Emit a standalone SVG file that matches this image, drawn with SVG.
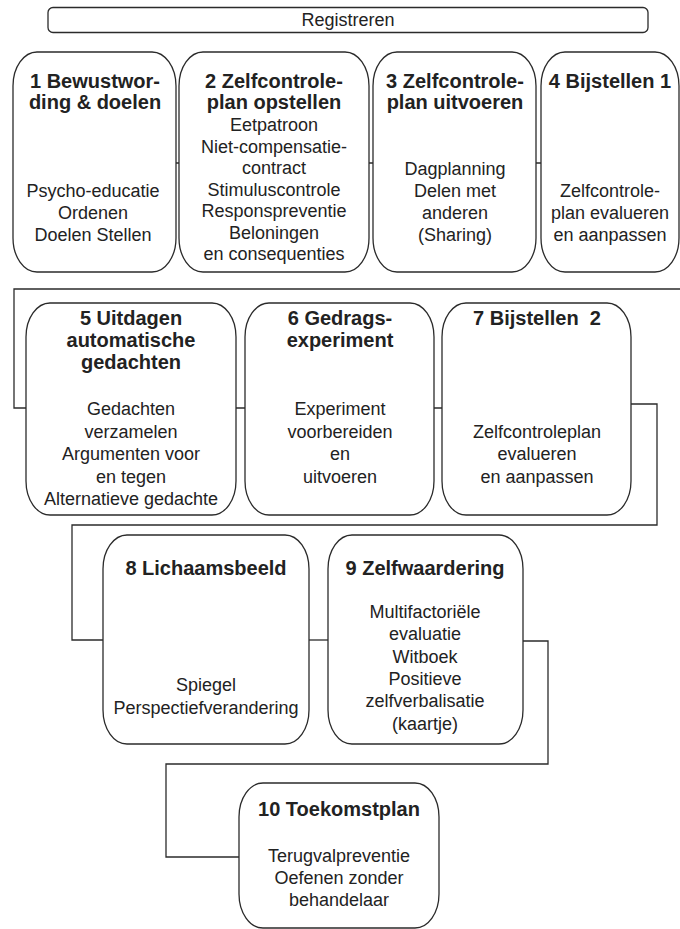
<svg xmlns="http://www.w3.org/2000/svg" width="680" height="929" viewBox="0 0 680 929">
<style>
.n{fill:#fff;stroke:#2b2b2b;stroke-width:1.3}
.c{fill:none;stroke:#2b2b2b;stroke-width:1.3}
.t{font-family:"Liberation Sans",Arial,sans-serif;font-size:20px;font-weight:bold;fill:#222;text-anchor:middle}
.b{font-family:"Liberation Sans",Arial,sans-serif;font-size:18px;fill:#222;text-anchor:middle}
</style>
<rect width="680" height="929" fill="#fff"/>
<g id="connectors">
<path class="c" d="M176 163H179M369 163H373M536 163H541"/>
<path class="c" d="M680 289H14V408H26"/>
<path class="c" d="M236 408H245M434 408H442"/>
<path class="c" d="M631 404H657V525H72V640H103"/>
<path class="c" d="M309 640H328"/>
<path class="c" d="M523 641H548V764H166V857H239"/>
</g>
<g id="registreren">
<rect class="n" x="48" y="7.5" width="600" height="25" rx="5"/>
<text class="b" x="348" y="26">Registreren</text>
</g>
<g id="node1">
<rect class="n" x="13" y="52" width="163" height="220" rx="24" ry="34"/>
<text class="t" x="95" y="88">1 Bewustwor-<tspan x="95" dy="21">ding &amp; doelen</tspan></text>
<text class="b" x="93" y="197">Psycho-educatie<tspan x="93" dy="22">Ordenen</tspan><tspan x="93" dy="22">Doelen Stellen</tspan></text>
</g>
<g id="node2">
<rect class="n" x="179" y="52" width="190" height="220" rx="24" ry="34"/>
<text class="t" x="274" y="88">2 Zelfcontrole-<tspan x="274" dy="21">plan opstellen</tspan></text>
<text class="b" x="274" y="131">Eetpatroon<tspan x="274" dy="21.5">Niet-compensatie-</tspan><tspan x="274" dy="21.5">contract</tspan><tspan x="274" dy="21.5">Stimuluscontrole</tspan><tspan x="274" dy="21.5">Responspreventie</tspan><tspan x="274" dy="21.5">Beloningen</tspan><tspan x="274" dy="21.5">en consequenties</tspan></text>
</g>
<g id="node3">
<rect class="n" x="373" y="52" width="163" height="220" rx="24" ry="34"/>
<text class="t" x="455" y="88">3 Zelfcontrole-<tspan x="455" dy="21">plan uitvoeren</tspan></text>
<text class="b" x="455" y="175">Dagplanning<tspan x="455" dy="22">Delen met</tspan><tspan x="455" dy="22">anderen</tspan><tspan x="455" dy="22">(Sharing)</tspan></text>
</g>
<g id="node4">
<rect class="n" x="541" y="52" width="138" height="220" rx="24" ry="34"/>
<text class="t" x="610" y="88">4 Bijstellen 1</text>
<text class="b" x="610" y="197">Zelfcontrole-<tspan x="610" dy="22">plan evalueren</tspan><tspan x="610" dy="22">en aanpassen</tspan></text>
</g>
<g id="node5">
<rect class="n" x="26" y="303" width="210" height="212" rx="24" ry="34"/>
<text class="t" x="131" y="325">5 Uitdagen<tspan x="131" dy="22">automatische</tspan><tspan x="131" dy="22">gedachten</tspan></text>
<text class="b" x="131" y="415">Gedachten<tspan x="131" dy="22.5">verzamelen</tspan><tspan x="131" dy="22.5">Argumenten voor</tspan><tspan x="131" dy="22.5">en tegen</tspan><tspan x="131" dy="22.5">Alternatieve gedachte</tspan></text>
</g>
<g id="node6">
<rect class="n" x="245" y="303" width="189" height="212" rx="24" ry="34"/>
<text class="t" x="340" y="325">6 Gedrags-<tspan x="340" dy="22">experiment</tspan></text>
<text class="b" x="340" y="415">Experiment<tspan x="340" dy="22.5">voorbereiden</tspan><tspan x="340" dy="22.5">en</tspan><tspan x="340" dy="22.5">uitvoeren</tspan></text>
</g>
<g id="node7">
<rect class="n" x="442" y="303" width="189" height="212" rx="24" ry="34"/>
<text class="t" x="537" y="325" xml:space="preserve" style="white-space:pre">7 Bijstellen  2</text>
<text class="b" x="537" y="437.5">Zelfcontroleplan<tspan x="537" dy="22.5">evalueren</tspan><tspan x="537" dy="22.5">en aanpassen</tspan></text>
</g>
<g id="node8">
<rect class="n" x="103" y="535" width="206" height="209" rx="24" ry="34"/>
<text class="t" x="206" y="575">8 Lichaamsbeeld</text>
<text class="b" x="206" y="691">Spiegel<tspan x="206" dy="22.5">Perspectiefverandering</tspan></text>
</g>
<g id="node9">
<rect class="n" x="328" y="535" width="195" height="209" rx="24" ry="34"/>
<text class="t" x="425" y="575">9 Zelfwaardering</text>
<text class="b" x="425" y="618">Multifactoriële<tspan x="425" dy="22.3">evaluatie</tspan><tspan x="425" dy="22.3">Witboek</tspan><tspan x="425" dy="22.3">Positieve</tspan><tspan x="425" dy="22.3">zelfverbalisatie</tspan><tspan x="425" dy="22.3">(kaartje)</tspan></text>
</g>
<g id="node10">
<rect class="n" x="239" y="783" width="200" height="145" rx="24" ry="34"/>
<text class="t" x="339" y="816">10 Toekomstplan</text>
<text class="b" x="339" y="862">Terugvalpreventie<tspan x="339" dy="22">Oefenen zonder</tspan><tspan x="339" dy="22">behandelaar</tspan></text>
</g>
</svg>
